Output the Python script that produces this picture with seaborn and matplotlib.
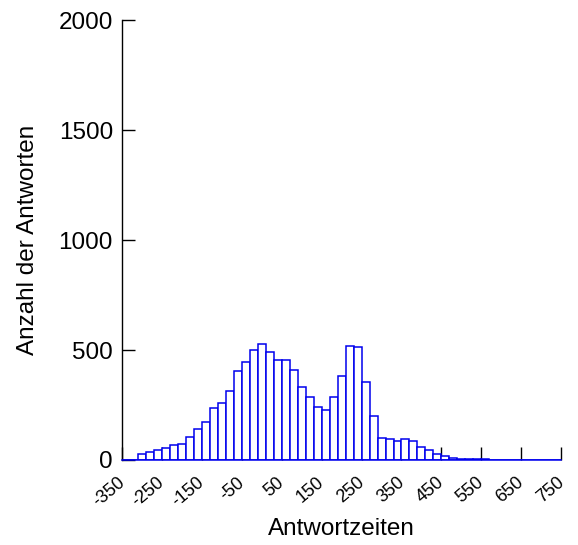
import matplotlib
matplotlib.use("Agg")
import matplotlib.pyplot as plt
import matplotlib.transforms as mtransforms
import numpy as np
import pandas as pd
import seaborn as sns

# Histogram of response times: 20-unit bins from -350 to 750
bin_start = -350
bin_end = 750
bin_width = 20
counts = [0, 0, 29, 35, 44, 53, 67, 74, 106, 142, 171, 235, 259, 315, 406,
          444, 499, 529, 489, 456, 453, 409, 333, 285, 240, 227, 285, 382,
          517, 512, 356, 202, 102, 94, 86, 94, 85, 59, 44, 26, 18, 8, 5,
          3, 3, 3, 2, 2, 1, 1, 1, 2, 1, 1, 1]
x_ticks = [-350, -250, -150, -50, 50, 150, 250, 350, 450, 550, 650, 750]
y_ticks = [0, 500, 1000, 1500, 2000]

centers = bin_start + bin_width * (np.arange(len(counts)) + 0.5)
df = pd.DataFrame({"zeit": centers, "anzahl": counts})

sns.set_style("ticks")
plt.rcParams["font.family"] = ["Liberation Sans", "DejaVu Sans"]
plt.rcParams["axes.unicode_minus"] = False
plt.rcParams["text.color"] = "black"
plt.rcParams["axes.labelcolor"] = "black"
plt.rcParams["xtick.labelcolor"] = "black"
plt.rcParams["ytick.labelcolor"] = "black"

fig = plt.figure(figsize=(5.78, 5.45), dpi=100)
ax = fig.add_axes([0.211, 0.156, 0.76, 0.807])

sns.histplot(data=df, x="zeit", weights="anzahl", binwidth=bin_width,
             binrange=(bin_start, bin_end), ax=ax,
             color="white", edgecolor="#0000ee", linewidth=1.1, alpha=1)

ax.set_xlim(bin_start, bin_end)
ax.set_ylim(0, 2000)
ax.set_axisbelow(True)

ax.set_xticks(x_ticks)
ax.set_yticks(y_ticks)
ax.tick_params(axis="both", direction="in", length=9.5, width=1.0,
               color="black", labelcolor="black")
ax.tick_params(axis="y", labelsize=17.5, pad=6.5)
ax.tick_params(axis="x", labelsize=13, pad=10)
for lbl in ax.get_xticklabels():
    lbl.set_rotation(40)
    lbl.set_horizontalalignment("right")
    lbl.set_transform(lbl.get_transform() +
                      mtransforms.ScaledTranslation(6 / 100, 0, fig.dpi_scale_trans))

for side in ("top", "right"):
    ax.spines[side].set_visible(False)
ax.spines["left"].set_color("black")
ax.spines["left"].set_linewidth(1.0)
ax.spines["bottom"].set_color("#0000ee")
ax.spines["bottom"].set_linewidth(1.1)

ax.set_xlabel("Antwortzeiten", fontsize=17.5, labelpad=6)
ax.set_ylabel("Anzahl der Antworten", fontsize=17.5, labelpad=14)

fig.savefig("out.png", dpi=100)
